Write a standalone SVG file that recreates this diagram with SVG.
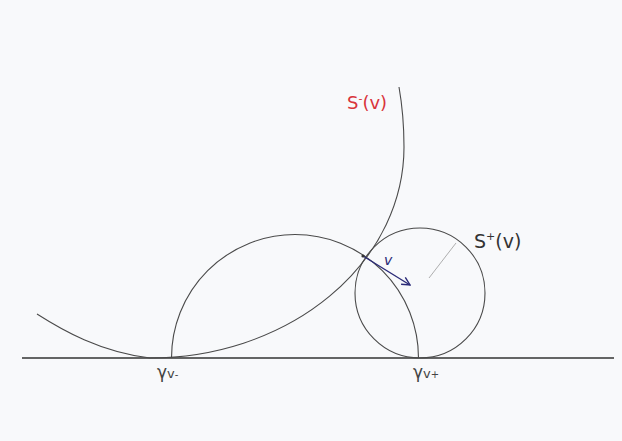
<svg xmlns="http://www.w3.org/2000/svg" width="622" height="441" viewBox="0 0 622 441">
<defs>
<style>
.c{fill:none;stroke:#4a4a4a;stroke-width:1.1}
.lbl{font-family:"DejaVu Sans","Liberation Sans",sans-serif}
</style>
<marker id="ah" markerWidth="10" markerHeight="10" refX="9" refY="5" orient="auto" markerUnits="userSpaceOnUse">
<path d="M1,1 L9,5 L1,9" fill="none" stroke="#2b2b78" stroke-width="1.4"/>
</marker>
</defs>
<rect width="622" height="441" fill="#f8f9fb"/>
<g id="baseline"><line x1="22" y1="358" x2="614" y2="358" stroke="#333" stroke-width="1.3"/></g>
<g id="S-minus">
<path class="c" d="M37,314 C62,330 100,352 150,358 A254,211 0 0 0 404,147 C404,122 402,104 399,87"/>
<text class="lbl" x="347" y="109" font-size="18" fill="#d8343c">S<tspan dy="-7" font-size="11">-</tspan><tspan dy="7">(v)</tspan></text>
</g>
<g id="semicircle">
<path class="c" d="M171.5,358 A123.5,123.5 0 0 1 418.5,358"/>
</g>
<g id="S-plus">
<circle class="c" cx="420" cy="293" r="65"/>
<line x1="429" y1="278" x2="456" y2="243" stroke="#9a9a9a" stroke-width="0.8"/>
<text class="lbl" x="474" y="248" font-size="19" fill="#333">S<tspan dy="-8" font-size="11">+</tspan><tspan dy="8">(v)</tspan></text>
</g>
<g id="connectors">
<line x1="363" y1="256" x2="410" y2="285" stroke="#2b2b78" stroke-width="1.4" marker-end="url(#ah)"/>
<circle cx="363" cy="256" r="1.6" fill="#333"/>
</g>
<g id="v-label"><text class="lbl" x="384" y="265" font-size="14" font-style="italic" fill="#2b2b78">v</text></g>
<g id="gamma-minus"><text class="lbl" x="157" y="378" font-size="17" fill="#444">γ<tspan font-size="13">v</tspan><tspan font-size="10">-</tspan></text></g>
<g id="gamma-plus"><text class="lbl" x="413" y="378" font-size="17" fill="#444">γ<tspan font-size="13">v</tspan><tspan font-size="10">+</tspan></text></g>
</svg>
